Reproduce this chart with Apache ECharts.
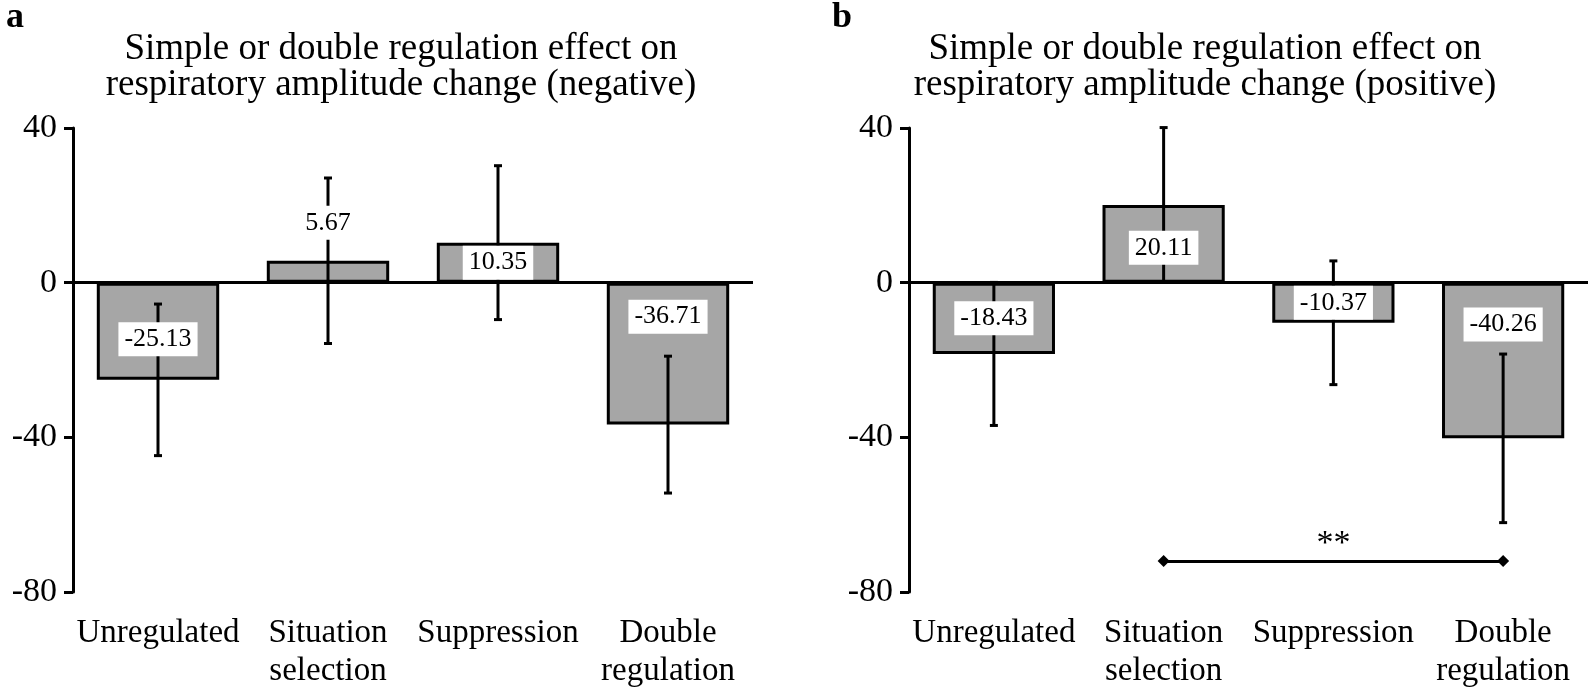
<!DOCTYPE html>
<html>
<head>
<meta charset="utf-8">
<script src="https://cdn.jsdelivr.net/npm/echarts@6/dist/echarts.min.js"></script>
<style>
html,body{margin:0;padding:0;background:#fff;}
#chart{width:1594px;height:690px;}
</style>
</head>
<body>
<div id="chart"></div>
<script>
// ---- data ----
const categories = ['Unregulated', 'Situation\nselection', 'Suppression', 'Double\nregulation'];
const yTicks = [-80, -40, 0, 40];
const panelLetters = ['a', 'b'];
const panelTitles = [
  'Simple or double regulation effect on\nrespiratory amplitude change (negative)',
  'Simple or double regulation effect on\nrespiratory amplitude change (positive)'
];
const negativeMeans = [-25.13, 5.67, 10.35, -36.71];
const negativeErrors = [19.6, 21.4, 19.9, 17.7];
const positiveMeans = [-18.43, 20.11, -10.37, -40.26];
const positiveErrors = [18.5, 20.0, 16.0, 21.8];
const sigFrom = 'Situation\nselection';
const sigTo = 'Double\nregulation';
const sigLevel = -72;
const sigText = '**';

// ---- layout / style ----
const FONT = "'Liberation Serif', 'Times New Roman', serif";
const panels = [
  { means: negativeMeans, errors: negativeErrors, left: 73, width: 680, titleX: 401, letterX: 6,
    labelDy: [8, -49, 0, -37], sig: false },
  { means: positiveMeans, errors: positiveErrors, left: 909, width: 679, titleX: 1205, letterX: 832,
    labelDy: [0, 4, 0, -36], sig: true }
];
const GRID_TOP = 128, GRID_H = 464;
const BAR_W = '72%';

const option = { animation: false, backgroundColor: '#fff', title: [], grid: [], xAxis: [], yAxis: [], series: [] };

panels.forEach((p, k) => {
  option.title.push({
    text: panelTitles[k], left: p.titleX, top: 31, textAlign: 'center', padding: 0,
    textStyle: { fontFamily: FONT, fontSize: 37, lineHeight: 36, fontWeight: 'normal', color: '#000' }
  });
  option.title.push({
    text: panelLetters[k], left: p.letterX, top: 0, padding: 0,
    textStyle: { fontFamily: FONT, fontSize: 36, fontWeight: 'bold', color: '#000' }
  });
  option.grid.push({ left: p.left, width: p.width, top: GRID_TOP, height: GRID_H, containLabel: false });
  option.xAxis.push({
    type: 'category', gridIndex: k, data: categories,
    axisLine: { show: false, onZero: false }, axisTick: { show: false },
    axisLabel: { interval: 0, fontFamily: FONT, fontSize: 33, lineHeight: 38, color: '#000', margin: 22 },
    splitLine: { show: false }
  });
  option.yAxis.push({
    type: 'value', gridIndex: k, min: yTicks[0], max: yTicks[yTicks.length - 1],
    interval: yTicks[1] - yTicks[0],
    axisLine: { show: true, onZero: false, lineStyle: { color: '#000', width: 3 } },
    axisTick: { show: true, length: 9, lineStyle: { color: '#000', width: 3 } },
    axisLabel: { fontFamily: FONT, fontSize: 34, color: '#000', margin: 16 },
    splitLine: { show: false }
  });

  const markData = [{ yAxis: 0 }];
  if (p.sig) {
    markData.push([
      { coord: [sigFrom, sigLevel], symbol: 'diamond', symbolSize: 12,
        label: { show: true, formatter: sigText, position: 'middle', distance: 0,
                 fontFamily: FONT, fontSize: 34, color: '#000' },
        lineStyle: { width: 3, color: '#000' } },
      { coord: [sigTo, sigLevel], symbol: 'diamond', symbolSize: 12 }
    ]);
  }

  // bars
  option.series.push({
    type: 'bar', xAxisIndex: k, yAxisIndex: k, z: 2, barWidth: BAR_W,
    data: p.means,
    itemStyle: { color: '#a6a6a6', borderColor: '#000', borderWidth: 3 },
    silent: true,
    markLine: {
      silent: true, symbol: ['none', 'none'], animation: false,
      label: { show: false },
      lineStyle: { color: '#000', width: 3, type: 'solid' },
      data: markData
    }
  });
  // error bars
  option.series.push({
    type: 'custom', xAxisIndex: k, yAxisIndex: k, z: 3, silent: true,
    data: p.means.map((m, i) => [i, m, p.errors[i]]),
    encode: { x: 0, y: 1 },
    renderItem: function (params, api) {
      const i = api.value(0), m = api.value(1), e = api.value(2);
      const hi = api.coord([i, m + e]);
      const lo = api.coord([i, m - e]);
      const cap = 4;
      const st = { stroke: '#000', lineWidth: 3 };
      return { type: 'group', children: [
        { type: 'line', shape: { x1: hi[0], y1: hi[1], x2: lo[0], y2: lo[1] }, style: st },
        { type: 'line', shape: { x1: hi[0] - cap, y1: hi[1], x2: hi[0] + cap, y2: hi[1] }, style: st },
        { type: 'line', shape: { x1: lo[0] - cap, y1: lo[1], x2: lo[0] + cap, y2: lo[1] }, style: st }
      ]};
    }
  });
  // value labels overlay
  option.series.push({
    type: 'bar', xAxisIndex: k, yAxisIndex: k, z: 4, barWidth: BAR_W, barGap: '-100%', silent: true,
    itemStyle: { color: 'rgba(0,0,0,0)', borderWidth: 0 },
    data: p.means,
    label: {
      show: true, position: 'inside', fontFamily: FONT, fontSize: 26, color: '#000',
      backgroundColor: '#fff', padding: [4, 6],
      formatter: (d) => d.value.toFixed(2)
    },
    labelLayout: function (params) {
      return { dy: p.labelDy[params.dataIndex] };
    }
  });
});

const chart = echarts.init(document.getElementById('chart'), null, { renderer: 'canvas' });
chart.setOption(option);
</script>
</body>
</html>
